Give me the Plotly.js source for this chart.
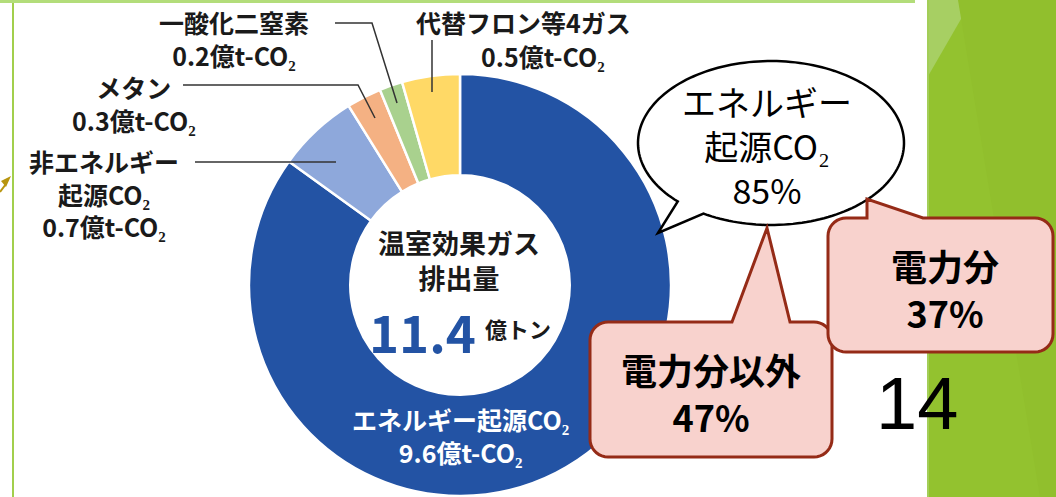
<!DOCTYPE html>
<html><head><meta charset="utf-8">
<script src="https://cdn.plot.ly/plotly-3.0.1.min.js"></script>
<style>html,body{margin:0;padding:0;background:#fff;}#chart{width:1056px;height:497px;}</style>
</head><body><div id="chart"></div>
<script>
// ---- data ----
const categories = ['エネルギー起源CO₂', '非エネルギー起源CO₂', 'メタン', '一酸化二窒素', '代替フロン等4ガス'];
const values = [9.6, 0.7, 0.3, 0.2, 0.5];
const colors = ['#2353A4', '#8EA8DB', '#F4B183', '#A9D18E', '#FFD966'];
const unit = '億t-CO₂';
const totalValue = 11.4;
const energyShare = 85;
const powerShare = 37;
const nonPowerShare = 47;
const pageNumber = '14';

// ---- helpers (pixel -> paper) ----
const W = 1056, H = 497;
const X = x => x / W, Y = y => 1 - y / H;
function arc(p, cx, cy, r, a0, a1) {
  for (let a = a0; a <= a1 + 0.01; a += 10) {
    const t = a * Math.PI / 180;
    p.push([cx + r * Math.cos(t), cy + r * Math.sin(t)]);
  }
}
function roundBox(x0, y0, x1, y1, r, tail) {
  const p = [[x0 + r, y0]];
  tail.forEach(t => p.push(t));
  arc(p, x1 - r, y0 + r, r, -90, 0);
  arc(p, x1 - r, y1 - r, r, 0, 90);
  arc(p, x0 + r, y1 - r, r, 90, 180);
  arc(p, x0 + r, y0 + r, r, 180, 270);
  return p;
}
const toPath = (p, close = true) => 'M' + p.map(q => X(q[0]).toFixed(5) + ',' + Y(q[1]).toFixed(5)).join('L') + (close ? 'Z' : '');

// speech bubble (ellipse with tail)
const bub = [[658, 233]];
for (let a = 134.5; a <= 481; a += 2) {
  const t = a * Math.PI / 180;
  bub.push([771 + 133 * Math.cos(t), 143 + 82 * Math.sin(t)]);
}

const shapes = [
  // green side panel
  {type: 'rect', xref: 'paper', yref: 'paper', x0: X(927), x1: 1, y0: 0, y1: 1, fillcolor: '#93C22F', line: {width: 0}, layer: 'below'},
  {type: 'path', xref: 'paper', yref: 'paper', path: toPath([[927, 0], [972, 0], [927, 78]]), fillcolor: '#A7CF63', line: {width: 0}, layer: 'below'},
  {type: 'path', xref: 'paper', yref: 'paper', path: toPath([[958, 0], [1056, 0], [1056, 497], [1040, 497]]), fillcolor: '#91BF2D', line: {width: 0}, layer: 'below'},
  {type: 'line', xref: 'paper', yref: 'paper', x0: X(928), x1: X(928), y0: 0, y1: 1, line: {color: '#A3CE58', width: 2}, layer: 'below'},
  // slide frame lines
  {type: 'rect', xref: 'paper', yref: 'paper', x0: 0, x1: X(915), y0: Y(3), y1: 1, fillcolor: '#B3DD7A', line: {width: 0}, layer: 'below'},
  {type: 'line', xref: 'paper', yref: 'paper', x0: X(13), x1: X(13), y0: 0, y1: Y(3), line: {color: '#A2CF4C', width: 2}, layer: 'below'},
  // gold arrow head on the left
  {type: 'path', xref: 'paper', yref: 'paper', path: toPath([[11, 176], [1, 181], [6, 187]]), fillcolor: '#B8950E', line: {width: 0}},
  {type: 'line', xref: 'paper', yref: 'paper', x0: 0, x1: X(6), y0: Y(192), y1: Y(184), line: {color: '#B8950E', width: 2}},
  // leader lines
  {type: 'path', xref: 'paper', yref: 'paper', path: toPath([[335, 23], [372, 23], [397, 103]], false), line: {color: '#333', width: 1.5}, layer: 'above'},
  {type: 'path', xref: 'paper', yref: 'paper', path: toPath([[432, 40], [432, 92]], false), line: {color: '#333', width: 1.5}, layer: 'above'},
  {type: 'path', xref: 'paper', yref: 'paper', path: toPath([[183, 85], [358, 85], [375, 118]], false), line: {color: '#333', width: 1.5}, layer: 'above'},
  {type: 'path', xref: 'paper', yref: 'paper', path: toPath([[195, 162], [336, 162]], false), line: {color: '#333', width: 1.5}, layer: 'above'},
  // speech bubble
  {type: 'path', xref: 'paper', yref: 'paper', path: toPath(bub), fillcolor: '#FFFFFF', line: {color: '#000', width: 2.5}, layer: 'above'},
  // pink callouts
  {type: 'path', xref: 'paper', yref: 'paper', path: toPath(roundBox(590, 322, 832, 457, 18, [[732, 322], [767, 228], [790, 322]])), fillcolor: '#F8D2CD', line: {color: '#952B17', width: 3}, layer: 'above'},
  {type: 'path', xref: 'paper', yref: 'paper', path: toPath(roundBox(828, 218, 1053, 352, 18, [[867, 218], [867, 199], [923, 218]])), fillcolor: '#F8D2CD', line: {color: '#952B17', width: 3}, layer: 'above'}
];

const JP = 'Noto Sans CJK JP';
function ann(text, x, y, size, opts = {}) {
  return {
    xref: 'paper', yref: 'paper', x: X(x), y: Y(y), text: text, showarrow: false,
    xanchor: 'center', yanchor: 'middle', align: 'center', borderpad: 0,
    font: {family: opts.family || JP, size: size, color: opts.color || '#1a1a1a', weight: opts.weight || 'normal'}
  };
}
const vtxt = v => v.toFixed(1) + unit;
const B = {weight: 'bold'};
const annotations = [
  // outside labels
  ann(categories[3] + '<br>' + vtxt(values[3]), 234, 39, 25, B),
  ann(categories[4], 523, 22, 25, B),
  ann(vtxt(values[4]), 543, 56, 25, B),
  ann(categories[2] + '<br>' + vtxt(values[2]), 134, 103, 25, B),
  ann('非エネルギー<br>起源CO₂<br>' + vtxt(values[1]), 104, 193, 25, B),
  // ring label
  ann(categories[0] + '<br>' + vtxt(values[0]), 460, 435, 25, {color: '#FFFFFF', weight: 'bold'}),
  // center
  ann('温室効果ガス<br>排出量', 459, 260, 27, B),
  ann(totalValue.toFixed(1), 422, 331, 51, {color: '#2353A4', weight: 'bold'}),
  ann('億トン', 518, 328, 22, B),
  // bubble
  ann('エネルギー<br>起源CO₂<br>' + energyShare + '%', 767, 145, 34, {color: '#000'}),
  // pink callouts
  ann('電力分以外<br>' + nonPowerShare + '%', 711, 392, 36, {weight: 'bold', color: '#000'}),
  ann('電力分<br>' + powerShare + '%', 945, 288, 36, {weight: 'bold', color: '#000'}),
  // page number
  ann(pageNumber, 917, 403, 74, {color: '#000', family: 'Liberation Sans'})
];

const trace = {
  type: 'pie',
  labels: categories,
  values: values,
  sort: false,
  direction: 'clockwise',
  rotation: 0,
  hole: 0.52,
  textinfo: 'none',
  hoverinfo: 'skip',
  showlegend: false,
  marker: {colors: colors, line: {color: '#FFFFFF', width: 2.5}},
  domain: {x: [X(249), X(671)], y: [Y(496), Y(74)]}
};

const layout = {
  width: W, height: H,
  margin: {l: 0, r: 0, t: 0, b: 0},
  paper_bgcolor: '#FFFFFF', plot_bgcolor: '#FFFFFF',
  showlegend: false,
  shapes: shapes,
  annotations: annotations
};

Plotly.newPlot('chart', [trace], layout, {staticPlot: true, displayModeBar: false});
</script>
</body></html>
